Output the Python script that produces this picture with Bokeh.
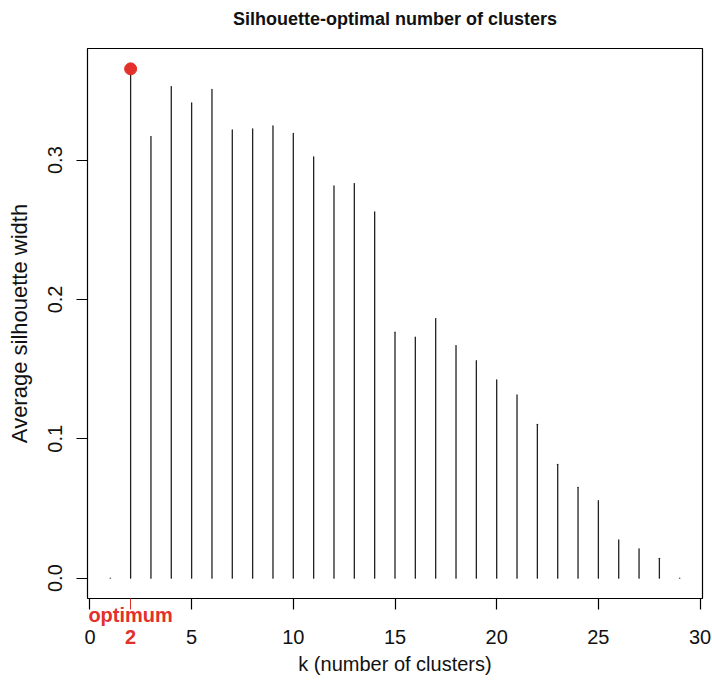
from bokeh.plotting import figure
from bokeh.models import Range1d, FixedTicker, PrintfTickFormatter, LinearAxis
from bokeh.embed import file_html
from bokeh.resources import INLINE

# ---- data ----
k_values = list(range(1, 30))
avg_silhouette = [0.0, 0.3655, 0.3169, 0.3528, 0.3411, 0.3507, 0.3217, 0.3225,
                  0.3246, 0.3191, 0.3024, 0.2815, 0.2832, 0.2629, 0.1765, 0.1729,
                  0.1863, 0.1669, 0.1561, 0.1423, 0.1315, 0.1104, 0.0817, 0.0652,
                  0.0556, 0.0274, 0.0210, 0.0142, 0.0]
optimal_k = 2
x_ticks = [0, 5, 10, 15, 20, 25, 30]
y_ticks = [0.0, 0.1, 0.2, 0.3]
title_text = "Silhouette-optimal number of clusters"
x_label = "k (number of clusters)"
y_label = "Average silhouette width"
optimum_text = "optimum"

FONT = "Liberation Sans"
RED = "#e3302a"
INK = "#111111"

# R-style 4% range extension
xmin, xmax = min(k_values), max(k_values)
xpad = (xmax - xmin) * 0.04
ymin_d, ymax_d = min(avg_silhouette), max(avg_silhouette)
ypad = (ymax_d - ymin_d) * 0.04
x0, x1 = xmin - xpad, xmax + xpad
y0, y1 = ymin_d - ypad, ymax_d + ypad

W, H = 712, 684
ML, MR, MT, MB = 87, 10, 48, 86

p = figure(width=W, height=H, output_backend="svg", toolbar_location=None,
           x_range=Range1d(x0, x1), y_range=Range1d(y0, y1),
           min_border_left=ML, min_border_right=MR,
           min_border_top=MT, min_border_bottom=MB)

p.background_fill_color = "white"
p.border_fill_color = "white"
p.outline_line_color = "black"
p.outline_line_width = 1.2
p.xgrid.visible = False
p.ygrid.visible = False

# title
p.title.text = title_text
p.title.align = "center"
p.title.text_font = FONT
p.title.text_font_size = "18px"
p.title.text_font_style = "bold"
p.title.text_color = INK
p.title.standoff = 0
p.title.padding = dict(left=0, right=0, top=0, bottom=20)

# x axis (black ticks/labels, red minor tick at the optimum)
xa = p.xaxis[0]
xa.ticker = FixedTicker(ticks=x_ticks, minor_ticks=[optimal_k])
xa.axis_line_color = None
xa.major_tick_out = 11
xa.major_tick_in = 0
xa.major_tick_line_color = "black"
xa.major_tick_line_width = 1.2
xa.minor_tick_out = 11
xa.minor_tick_in = 0
xa.minor_tick_line_color = RED
xa.minor_tick_line_width = 1.0
xa.major_label_text_font = FONT
xa.major_label_text_font_size = "20px"
xa.major_label_text_color = INK
xa.major_label_standoff = 20
xa.axis_label = x_label
xa.axis_label_text_font = FONT
xa.axis_label_text_font_size = "20px"
xa.axis_label_text_font_style = "normal"
xa.axis_label_text_color = INK
xa.axis_label_standoff = 6

# red "optimum / 2" label under the optimum, drawn by a second bottom axis
opt_axis = LinearAxis(ticker=FixedTicker(ticks=[optimal_k]),
                      major_label_overrides={optimal_k: optimum_text + "\n" + str(optimal_k)})
opt_axis.axis_line_color = None
opt_axis.major_tick_line_color = None
opt_axis.minor_tick_line_color = None
opt_axis.major_tick_out = 0
opt_axis.major_tick_in = 0
opt_axis.major_label_text_font = FONT
opt_axis.major_label_text_font_size = "20px"
opt_axis.major_label_text_font_style = "bold"
opt_axis.major_label_text_color = RED
opt_axis.major_label_text_line_height = 1.0
opt_axis.major_label_text_align = "center"
opt_axis.major_label_standoff = -74
p.add_layout(opt_axis, "below")

# y axis
ya = p.yaxis[0]
ya.ticker = FixedTicker(ticks=y_ticks)
ya.formatter = PrintfTickFormatter(format="%.1f")
ya.axis_line_color = None
ya.major_tick_out = 11
ya.major_tick_in = 0
ya.minor_tick_line_color = None
ya.major_tick_line_color = "black"
ya.major_tick_line_width = 1.2
ya.major_label_orientation = "vertical"
ya.major_label_text_font = FONT
ya.major_label_text_font_size = "20px"
ya.major_label_text_color = INK
ya.major_label_standoff = 14
ya.axis_label = y_label
ya.axis_label_text_font = FONT
ya.axis_label_text_font_size = "22px"
ya.axis_label_text_font_style = "normal"
ya.axis_label_text_color = INK
ya.axis_label_standoff = 14

# vertical lines (type = "h")
p.segment(x0=k_values, y0=[0.0] * len(k_values), x1=k_values, y1=avg_silhouette,
          line_color="#222222", line_width=1.3, line_cap="round")

# optimum point
p.scatter(x=[optimal_k], y=[avg_silhouette[optimal_k - 1]], size=12,
          fill_color=RED, line_color=RED)

open("out.html", "w").write(file_html(p, INLINE))
